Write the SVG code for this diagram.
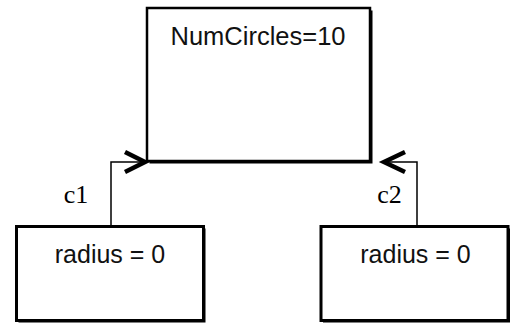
<svg xmlns="http://www.w3.org/2000/svg" width="513" height="324" viewBox="0 0 513 324">
<style>
.box{fill:#fff;stroke:#000}
.shadow{fill:#000}
.t{font-family:"Liberation Sans",Arial,sans-serif;fill:#111;text-anchor:middle}
.lbl{font-family:"Liberation Serif","Times New Roman",serif;font-size:26px;fill:#000;text-anchor:middle}
.conn{fill:none;stroke:#000;stroke-width:1.5}
.head{fill:none;stroke:#000;stroke-width:4.5;stroke-linejoin:miter}
</style>
<rect width="513" height="324" fill="#fff"/>
<g id="main">
<rect class="shadow" x="149.5" y="10.5" width="223" height="153"/>
<rect class="box" x="147" y="8" width="223" height="153" stroke-width="2.5"/>
<text class="t" x="258" y="45" font-size="25.5">NumCircles=10</text>
</g>
<g id="c1box">
<rect class="shadow" x="18.5" y="228.5" width="187" height="94"/>
<rect class="box" x="16.5" y="226.5" width="187" height="94" stroke-width="3"/>
<text class="t" x="110" y="263" font-size="25">radius = 0</text>
</g>
<g id="c2box">
<rect class="shadow" x="323" y="228.5" width="187" height="94"/>
<rect class="box" x="321" y="226.5" width="187" height="94" stroke-width="3"/>
<text class="t" x="415.5" y="263" font-size="25">radius = 0</text>
</g>
<g id="connectors">
<polyline class="conn" points="111,225 111,162 146,162"/>
<polyline class="head" points="125,152 145,162 125,172"/>
<text class="lbl" x="76" y="203">c1</text>
<polyline class="conn" points="417,225 417,162 384,162"/>
<polyline class="head" points="405,152 384,162 405,172"/>
<text class="lbl" x="389.5" y="203">c2</text>
</g>
</svg>
